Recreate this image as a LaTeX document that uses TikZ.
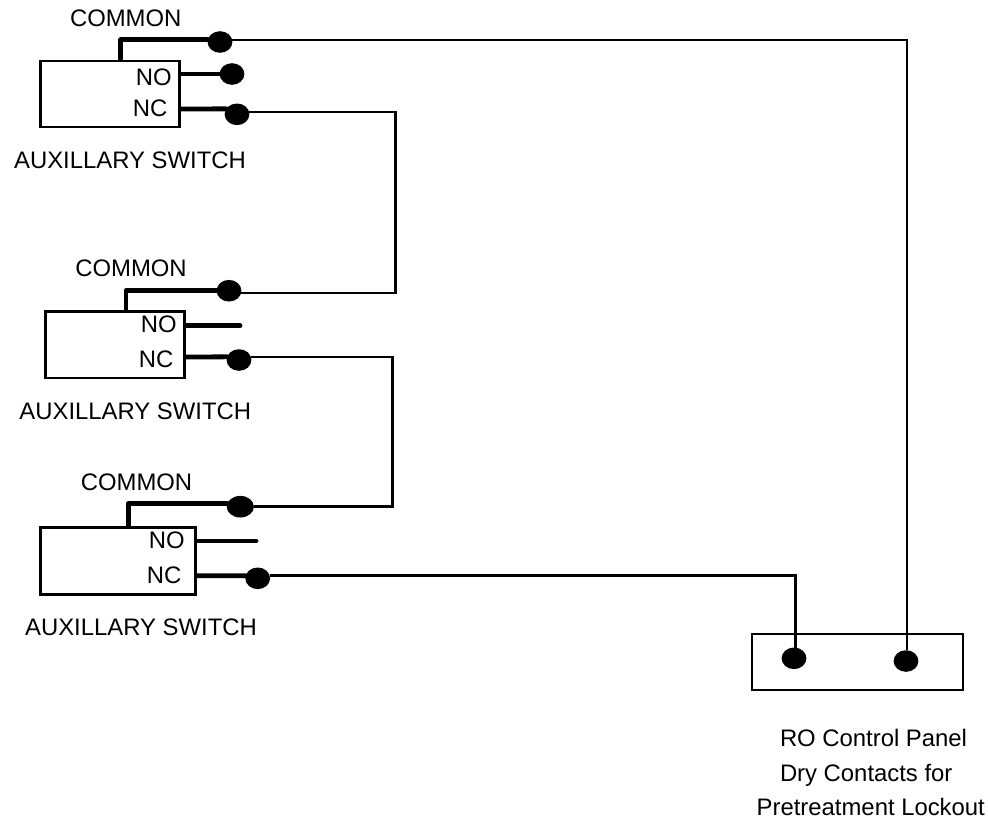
\documentclass[tikz,border=0pt]{standalone}
\usepackage{fontspec}
\setmainfont{Liberation Sans}
\usetikzlibrary{shapes.geometric}

\begin{document}
\begin{tikzpicture}[
        x=0.75pt, y=-0.75pt,
        every node/.style={font=\fontsize{17.9}{21}\selectfont, inner sep=0pt, outer sep=0pt},
        box/.style={draw, line width=2pt, line join=miter},
        dot/.style={ellipse, fill=black, minimum width=18.6pt, minimum height=16.2pt},
        heavy/.style={line width=3.6pt, line cap=round, line join=round},
        wire/.style={line width=2pt, line join=miter}
    ]
    \useasboundingbox (0,0) rectangle (988,822);

    % Nodes
    \node[box, minimum width=104pt, minimum height=49.5pt] (sw1) at (110,94) {};
    \node[box, minimum width=104.7pt, minimum height=49.7pt] (sw2) at (115,344.8) {};
    \node[box, minimum width=116.2pt, minimum height=50.2pt] (sw3) at (117.8,560.8) {};
    \node[box, minimum width=158.2pt, minimum height=42pt] (panel) at (857.5,662) {};

    \node[anchor=base] (common1) at (125.7,26.7) {COMMON};
    \node[anchor=base east] (no1) at (171.7,85) {NO};
    \node[anchor=base east] (nc1) at (167.3,116.7) {NC};
    \node[anchor=base] (aux1) at (130,168) {AUXILLARY SWITCH};

    \node[anchor=base] (common2) at (131,276.7) {COMMON};
    \node[anchor=base east] (no2) at (176.7,332.7) {NO};
    \node[anchor=base east] (nc2) at (173.3,367.7) {NC};
    \node[anchor=base] (aux2) at (135.3,419) {AUXILLARY SWITCH};

    \node[anchor=base] (common3) at (136.5,490.7) {COMMON};
    \node[anchor=base east] (no3) at (184.7,548.3) {NO};
    \node[anchor=base east] (nc3) at (181.3,583.3) {NC};
    \node[anchor=base] (aux3) at (141,635) {AUXILLARY SWITCH};

    \node[anchor=base west] (ro) at (780,746.7) {RO Control Panel};
    \node[anchor=base west] (dry) at (780,781) {Dry Contacts for};
    \node[anchor=base west] (pre) at (756.7,815) {Pretreatment Lockout};

    \node[dot] (dotc1) at (220,42) {};
    \node[dot] (dotno1) at (232,74) {};
    \node[dot] (dotnc1) at (237,114.3) {};
    \node[dot] (dotc2) at (229,290.7) {};
    \node[dot] (dotnc2) at (239,360) {};
    \node[dot, minimum width=20.4pt] (dotc3) at (240.3,506.7) {};
    \node[dot] (dotnc3) at (257.7,578.3) {};
    \node[dot] (dotp1) at (794,658.3) {};
    \node[dot] (dotp2) at (906,661) {};

    % Free ends
    \coordinate (stub1) at (120.7,59);
    \coordinate (stub2) at (126,309.7);
    \coordinate (stub3) at (128.7,525.3);
    \coordinate (portno1) at (180.5,74);
    \coordinate (portnc1) at (180.5,109);
    \coordinate (portno2) at (186.5,325.3);
    \coordinate (portnc2) at (186.5,357);
    \coordinate (portno3) at (196.5,541);
    \coordinate (portnc3) at (196.5,575.7);
    \coordinate (endno2) at (240,325.3);
    \coordinate (endno3) at (256,541);
    \coordinate (bend1) at (395.7,200);
    \coordinate (bend2) at (392.7,430);

    % Arrows
    \draw[heavy] (stub1) |- (dotc1.170);
    \draw[heavy] (portno1) -- (dotno1.west);
    \draw[heavy] (portnc1) -- (dotnc1.153);
    \draw[heavy] (stub2) |- (dotc2.west);
    \draw[heavy] (portno2) -- (endno2);
    \draw[heavy] (portnc2) -- (dotnc2.165);
    \draw[heavy] (stub3) |- (dotc3.167);
    \draw[heavy] (portno3) -- (endno3);
    \draw[heavy] (portnc3) -- (dotnc3.168);

    \draw[wire] (dotc1.10) -| (dotp2.85);
    \draw[wire] (dotnc1.10) -| (bend1) |- (dotc2.350);
    \draw[wire] (dotnc2.15) -| (bend2) |- (dotc3.east);
    \draw[wire] (dotnc3.12) -| (dotp1.83);

\end{tikzpicture}
\end{document}
